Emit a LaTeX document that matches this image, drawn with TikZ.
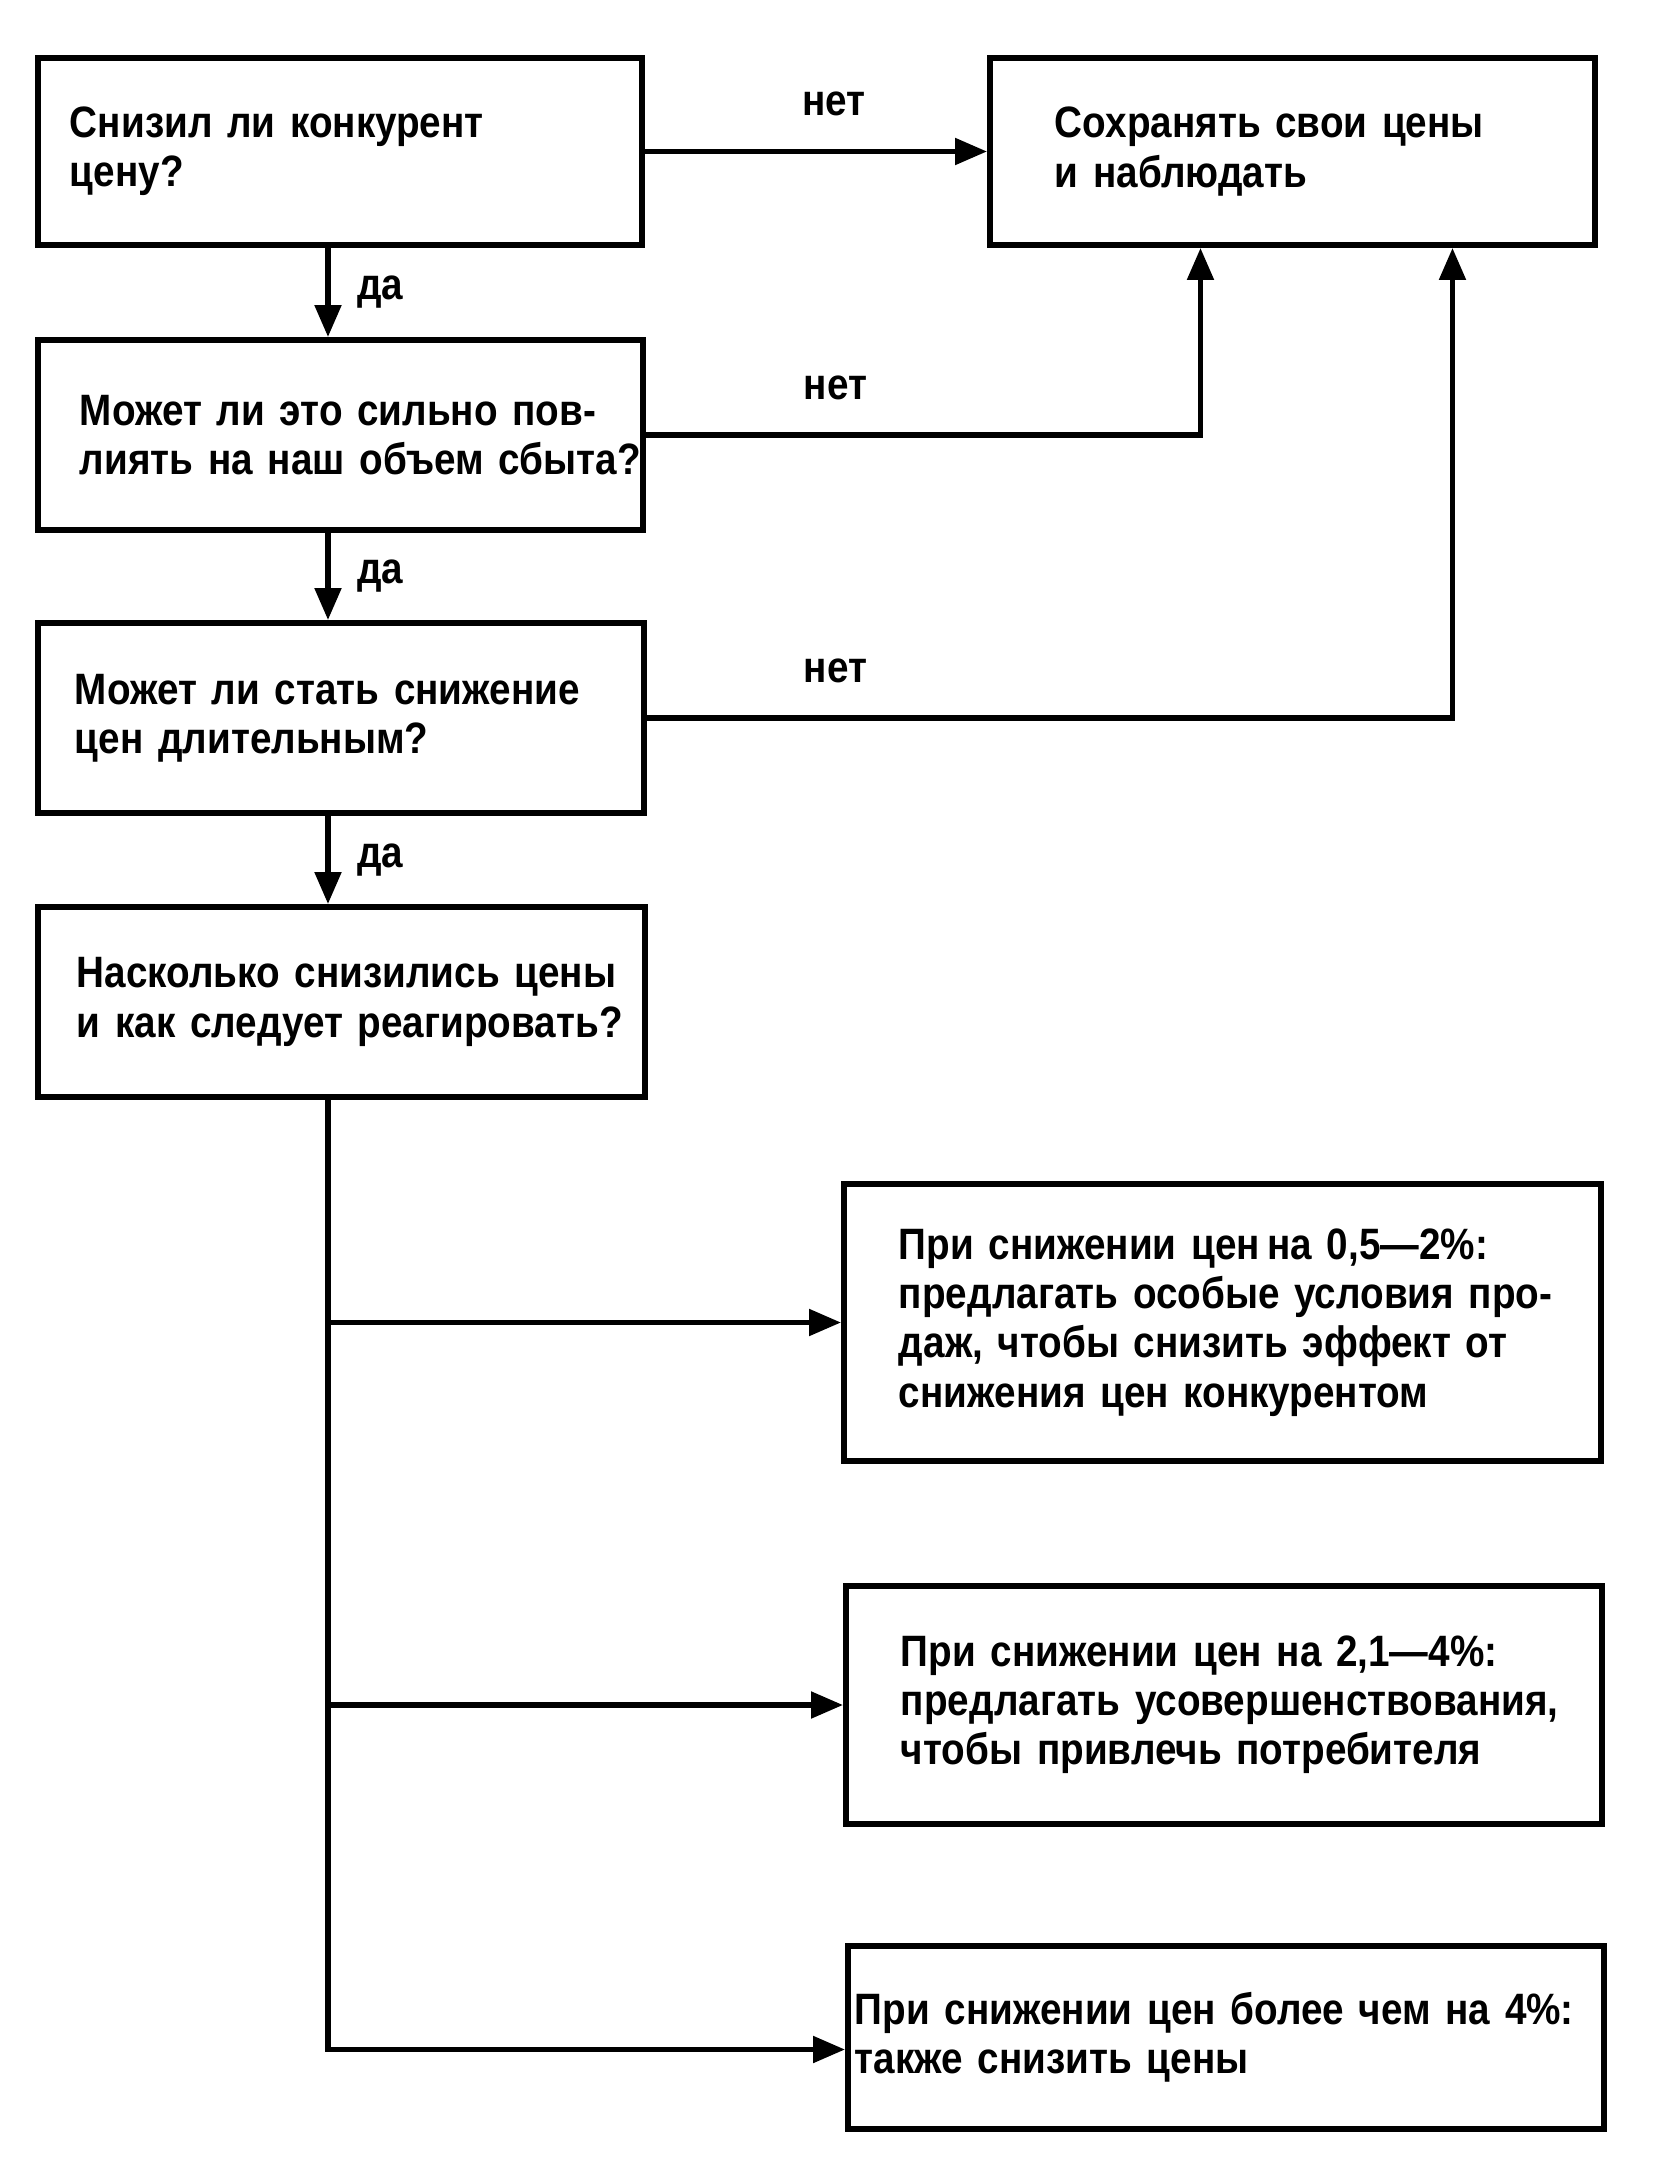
\documentclass[tikz,border=0pt]{standalone}
\usepackage{fontspec}
\setmainfont{Liberation Sans}[FakeStretch=0.88]
\usetikzlibrary{arrows.meta}

\begin{document}
\begin{tikzpicture}[box/.style={draw, line width=1.7pt, anchor=north west, align=left, font=\bfseries\fontsize{12.5}{14}\selectfont},
  arr/.style={-{Triangle[length=3.2mm,width=2.6mm]}, line width=1.5pt},
  lbl/.style={font=\bfseries\fontsize{12.5}{14}\selectfont}]

\useasboundingbox (0,0) rectangle (16.63,-21.76);

        % questions
        \node[box, text width=5.40cm, inner xsep=0.32cm, minimum height=1.87cm] (q1) at (0.35,-0.55) {Снизил ли конкурент\\цену?};
        \node[box, text width=5.21cm, inner xsep=0.42cm, minimum height=1.90cm] (q2) at (0.35,-3.37) {\mbox{Может ли это сильно пов-}\\\mbox{лиять на наш объем сбыта?}};
        \node[box, text width=5.32cm, inner xsep=0.37cm, minimum height=1.90cm] (q3) at (0.35,-6.20) {Может ли стать снижение\\цен длительным?};
        \node[box, text width=5.29cm, inner xsep=0.39cm, minimum height=1.90cm] (q4) at (0.35,-9.04) {\mbox{Насколько снизились цены}\\\mbox{и как следует реагировать?}};

        % answers
        \node[box, text width=4.75cm, inner xsep=0.65cm, minimum height=1.87cm] (keep) at (9.87,-0.55) {Сохранять свои цены\\и наблюдать};
        \node[box, text width=6.47cm, inner xsep=0.55cm, minimum height=2.77cm] (r1) at (8.41,-11.81) {\mbox{При снижении цен\,на 0,5—2\%:}\\\mbox{предлагать особые условия про-}\\\mbox{даж, чтобы снизить эффект от}\\\mbox{снижения цен конкурентом}};
        \node[box, text width=6.46cm, inner xsep=0.55cm, minimum height=2.38cm] (r2) at (8.43,-15.83) {\mbox{При снижении цен на 2,1—4\%:}\\\mbox{предлагать усовершенствования,}\\\mbox{чтобы привлечь потребителя}};
        \node[box, text width=7.42cm, inner xsep=0.07cm, minimum height=1.83cm] (r3) at (8.45,-19.43) {\mbox{При снижении цен более чем на 4\%:}\\также снизить цены};

        \coordinate (spine) at (3.28,0);

        \draw[arr] (q1.south -| spine) -- node[lbl, right=0.15cm] {да} (q2.north -| spine);
        \draw[arr] (q2.south -| spine) -- node[lbl, right=0.15cm] {да} (q3.north -| spine);
        \draw[arr] (q3.south -| spine) -- node[lbl, right=0.15cm] {да} (q4.north -| spine);

        \draw[arr] (q1.east) -- node[lbl, pos=0.552, above=0.21cm] {нет} (keep.west);
        \draw[arr] (q2.east) -| node[lbl, pos=0.171, above=0.21cm] {нет} ([xshift=-0.92cm]keep.south);
        \draw[arr] (q3.east) -| node[lbl, pos=0.117, above=0.21cm] {нет} ([xshift=1.60cm]keep.south);

        \draw[arr] (q4.south -| spine) |- ([yshift=-0.12cm]r3.west);
        \draw[arr] (r1.west -| spine) -- (r1.west);
        \draw[arr] (r2.west -| spine) -- (r2.west);
      \end{tikzpicture}
\end{document}
